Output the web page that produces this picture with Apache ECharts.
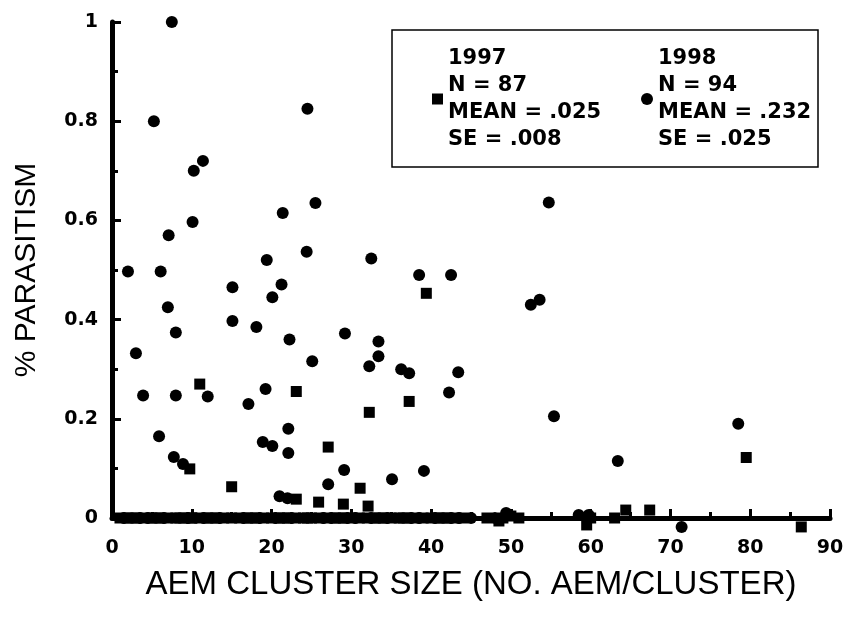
<!DOCTYPE html>
<html>
<head>
<meta charset="UTF-8">
<title>AEM cluster size vs % parasitism</title>
<script src="https://cdn.jsdelivr.net/npm/echarts@6/dist/echarts.min.js"></script>
<style>
    html, body { margin: 0; padding: 0; background: #fff; }
    #chart { width: 853px; height: 617px; }
</style>
</head>
<body>
<div id="chart"></div>
<script>
// 1997 (squares): [cluster size, parasitism]
var pts1997 = [
    [11.0, 0.27], [23.1, 0.255], [27.1, 0.143], [9.75, 0.099], [15.0, 0.063],
    [23.1, 0.038], [25.9, 0.032], [29.0, 0.028], [39.4, 0.453], [37.25, 0.235],
    [32.25, 0.213], [31.1, 0.06], [32.1, 0.024], [79.5, 0.122], [67.4, 0.016],
    [64.4, 0.016], [59.5, -0.014], [86.4, -0.018], [50, 0.004], [48.5, -0.006]
];
// 1997 clusters with no parasitism (sit on the axis)
var zero1997 = [1, 2, 3, 4, 5, 6, 7, 8, 9, 10, 10, 11, 12, 13, 14, 15, 16, 17, 18, 19,
    20, 21, 22, 23, 24, 25, 26, 27, 28, 29, 30, 31, 32, 33, 34, 35, 36, 37, 38, 39,
    40, 41, 42, 43, 44, 2.5, 5.5, 8.5, 12.5, 17.5, 21.5, 24.5, 28.5, 33.5, 36.5, 41.5,
    47, 49, 51, 60, 63];

// 1998 (circles)
var pts1998 = [
    [7.5, 1.0], [5.25, 0.80], [24.5, 0.825], [11.4, 0.72], [10.25, 0.70],
    [25.5, 0.635], [21.4, 0.615], [10.1, 0.597], [7.1, 0.57], [24.4, 0.537],
    [19.4, 0.52], [2.0, 0.497], [6.1, 0.497], [15.1, 0.465], [21.25, 0.471],
    [20.1, 0.445], [7.0, 0.425], [15.1, 0.397], [18.1, 0.385], [8.0, 0.374],
    [22.25, 0.36], [29.2, 0.372], [3.0, 0.332], [25.1, 0.316], [3.9, 0.247],
    [8.0, 0.247], [12.0, 0.245], [17.1, 0.23], [19.25, 0.26], [5.9, 0.165],
    [22.1, 0.18], [18.9, 0.153], [20.1, 0.145], [22.1, 0.131], [7.75, 0.123],
    [8.9, 0.109], [29.1, 0.097], [27.1, 0.068], [21.0, 0.044], [22.0, 0.04],
    [54.75, 0.636], [32.5, 0.523], [38.5, 0.49], [42.5, 0.49], [52.5, 0.43],
    [53.6, 0.44], [33.4, 0.356], [33.4, 0.326], [32.25, 0.306], [36.25, 0.30],
    [37.25, 0.292], [43.4, 0.294], [42.25, 0.253], [55.4, 0.205], [35.1, 0.078],
    [39.1, 0.095], [78.5, 0.19], [63.4, 0.115], [49.4, 0.01], [58.5, 0.006],
    [59.75, 0.006], [71.4, -0.018]
];
var zero1998 = [1.5, 3.5, 4.5, 6.5, 9.5, 11.5, 13.5, 16.5, 18.5, 20.5, 22.5, 26.5,
    27.5, 29.5, 30.5, 32.5, 34.5, 37.5, 38.5, 40.5, 42.5, 43.5, 45, 48];

var legend1997 = ['1997', 'N = 87', 'MEAN = .025', 'SE = .008'];
var legend1998 = ['1998', 'N = 94', 'MEAN = .232', 'SE = .025'];

function withZeros(pts, zeros) {
    var out = pts.slice();
    for (var i = 0; i < zeros.length; i++) {
        out.push([zeros[i], 0]);
    }
    return out;
}

var chart = echarts.init(document.getElementById('chart'));

var legendText = {
    fontFamily: 'DejaVu Sans',
    fontWeight: 'bold',
    fontSize: 21,
    lineHeight: 27,
    color: '#000'
};

var option = {
    backgroundColor: '#fff',
    animation: false,
    grid: { left: 112, right: 23, top: 22, bottom: 99 },
    xAxis: {
        type: 'value',
        min: 0, max: 90, interval: 10,
        name: 'AEM CLUSTER SIZE (NO. AEM/CLUSTER)',
        nameLocation: 'middle',
        nameGap: 50,
        nameTextStyle: { fontFamily: 'Liberation Sans', fontSize: 33, color: '#000' },
        splitLine: { show: false },
        axisLine: { show: true, onZero: false, lineStyle: { color: '#000', width: 5 } },
        axisTick: { show: true, inside: true, length: 9, lineStyle: { color: '#000', width: 3 } },
        minorTick: { show: true, splitNumber: 2, length: 6, lineStyle: { color: '#000', width: 3 } },
        axisLabel: {
            margin: 21, color: '#000',
            fontFamily: 'DejaVu Sans', fontWeight: 'bold', fontSize: 19
        }
    },
    yAxis: {
        type: 'value',
        min: 0, max: 1, interval: 0.2,
        name: '% PARASITISM',
        nameLocation: 'middle',
        nameRotate: 90,
        nameGap: 70,
        nameTextStyle: { fontFamily: 'Liberation Sans', fontSize: 30, color: '#000' },
        splitLine: { show: false },
        axisLine: { show: true, onZero: false, lineStyle: { color: '#000', width: 5 } },
        axisTick: { show: true, inside: true, length: 9, lineStyle: { color: '#000', width: 3 } },
        minorTick: { show: true, splitNumber: 2, length: 6, lineStyle: { color: '#000', width: 3 } },
        axisLabel: {
            margin: 14, color: '#000',
            fontFamily: 'DejaVu Sans', fontWeight: 'bold', fontSize: 19
        }
    },
    legend: [{
        data: ['1997'],
        left: 432, top: 45,
        orient: 'vertical',
        selectedMode: false,
        itemWidth: 11, itemHeight: 11,
        itemGap: 0,
        padding: 0,
        itemStyle: { opacity: 1 },
        formatter: function () { return legend1997.join('\n'); },
        textStyle: legendText
    }, {
        data: ['1998'],
        left: 641, top: 45,
        orient: 'vertical',
        selectedMode: false,
        itemWidth: 12, itemHeight: 12,
        itemGap: 0,
        padding: 0,
        itemStyle: { opacity: 1 },
        formatter: function () { return legend1998.join('\n'); },
        textStyle: legendText
    }],
    graphic: [{
        type: 'rect',
        shape: { x: 392, y: 30, width: 426, height: 137 },
        style: { fill: 'none', stroke: '#000', lineWidth: 1.5 },
        silent: true
    }],
    series: [{
        name: '1997',
        type: 'scatter',
        symbol: 'rect',
        symbolSize: 11,
        clip: false,
        itemStyle: { color: '#000', opacity: 1 },
        data: withZeros(pts1997, zero1997)
    }, {
        name: '1998',
        type: 'scatter',
        symbol: 'circle',
        symbolSize: 12,
        clip: false,
        itemStyle: { color: '#000', opacity: 1 },
        data: withZeros(pts1998, zero1998)
    }]
};

chart.setOption(option);
</script>
</body>
</html>
